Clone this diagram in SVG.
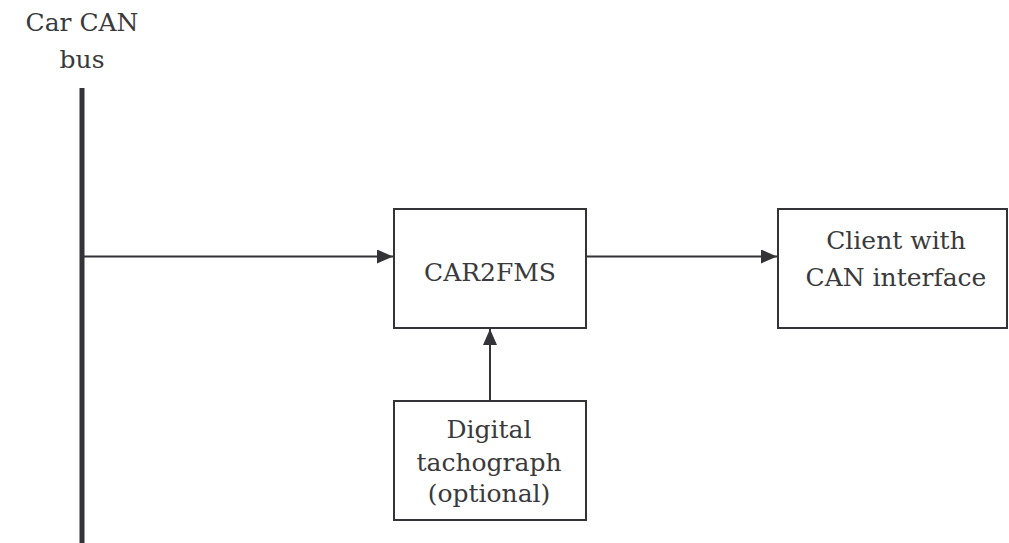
<svg xmlns="http://www.w3.org/2000/svg" width="1009" height="543" viewBox="0 0 1009 543">
<defs>
<style>
.box{fill:#fff;stroke:#333338;stroke-width:2}
.ln{stroke:#333338;stroke-width:2;fill:none}
text{font-family:'DejaVu Serif',serif;font-size:25px;fill:#3a3a3c;text-anchor:middle}
</style>
<marker id="ah" markerWidth="16" markerHeight="14" refX="16" refY="7" orient="auto" markerUnits="userSpaceOnUse">
<path d="M0,0 L16,7 L0,14 Z" fill="#333338"/>
</marker>
</defs>
<rect width="1009" height="543" fill="#fff"/>
<g id="bus">
<line x1="82" y1="88" x2="82" y2="543" stroke="#333338" stroke-width="5"/>
<text x="82" y="31">Car CAN</text>
<text x="82" y="68">bus</text>
</g>
<g id="connectors">
<line class="ln" x1="84" y1="256.5" x2="393" y2="256.5" marker-end="url(#ah)"/>
<line class="ln" x1="587" y1="256.5" x2="777" y2="256.5" marker-end="url(#ah)"/>
<line class="ln" x1="490" y1="400" x2="490" y2="329" marker-end="url(#ah)"/>
</g>
<g id="car2fms">
<rect class="box" x="394" y="209" width="192" height="119"/>
<text x="490" y="281">CAR2FMS</text>
</g>
<g id="client">
<rect class="box" x="778" y="209" width="229" height="119"/>
<text x="896" y="249">Client with</text>
<text x="896" y="286">CAN interface</text>
</g>
<g id="tachograph">
<rect class="box" x="394" y="401" width="192" height="119"/>
<text x="489" y="438">Digital</text>
<text x="489" y="471">tachograph</text>
<text x="489" y="502">(optional)</text>
</g>
</svg>
